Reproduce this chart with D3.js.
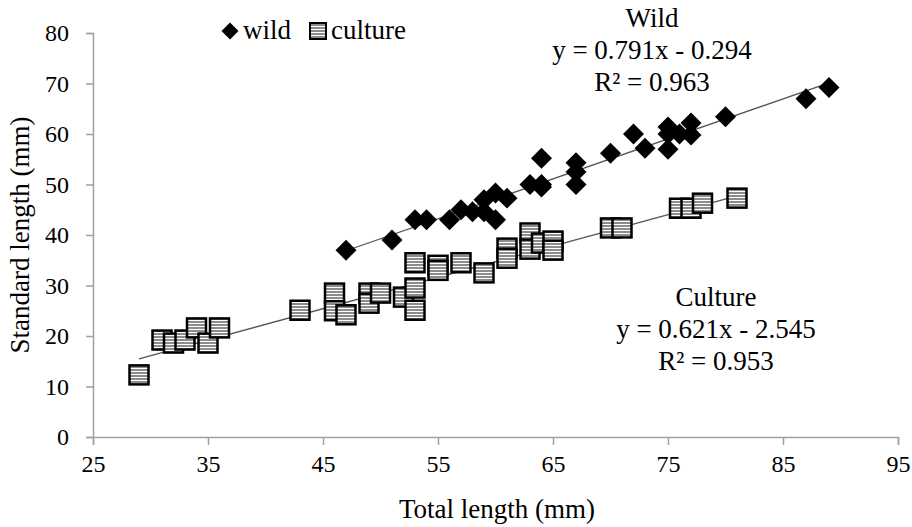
<!DOCTYPE html>
<html>
<head>
<meta charset="utf-8">
<script src="https://cdn.jsdelivr.net/npm/d3@7"></script>
<style>
  body { margin: 0; background: #fff; }
  svg { font-family: "Liberation Serif", "Times New Roman", serif; }
</style>
</head>
<body>
<div id="chart"></div>
<script>
// wild fish: total length vs standard length (mm)
var wildTL = [47, 51, 53, 54, 56, 57, 58, 59, 59, 60, 60, 61, 63, 64, 64, 64, 67, 67, 67, 70, 72, 73, 75, 75, 75, 76, 77, 77, 80, 87, 89];
var wildSL = [37, 39, 43, 43, 43, 45, 44.6, 47, 44.6, 48.3, 43, 47.3, 50, 55.2, 49.5, 50, 54.3, 52.5, 50, 56.2, 60, 57.2, 61.4, 57, 60, 60, 62.2, 59.8, 63.4, 67, 69.2];
// cultured fish
var cultTL = [29, 31, 32, 33, 34, 35, 36, 43, 46, 46, 47, 49, 49, 50, 52, 53, 53, 53, 55, 55, 57, 59, 61, 61, 63, 63, 64, 65, 65, 70, 71, 76, 77, 78, 81];
var cultSL = [12.3, 19.2, 18.6, 19.2, 21.6, 18.6, 21.6, 25.1, 28.5, 25, 24.2, 28.5, 26.5, 28.5, 27.7, 29.5, 25.1, 34.5, 34, 33, 34.5, 32.5, 37.4, 35.4, 40.4, 37.2, 38.4, 38.8, 37, 41.4, 41.4, 45.3, 45.3, 46.3, 47.3];

var xTicks = [25, 35, 45, 55, 65, 75, 85, 95];
var yTicks = [0, 10, 20, 30, 40, 50, 60, 70, 80];

var wildFit = {a: 0.791, b: -0.294};
var cultFit = {a: 0.621, b: -2.545};

var width = 912, height = 527;

var svg = d3.select("#chart").append("svg")
  .attr("width", width).attr("height", height);

var defs = svg.append("defs");
var pat = defs.append("pattern")
  .attr("id", "stripes")
  .attr("patternUnits", "userSpaceOnUse")
  .attr("width", 4).attr("height", 3);
pat.append("rect").attr("width", 4).attr("height", 3).attr("fill", "#8c8c8c");
pat.append("rect").attr("y", 2).attr("width", 4).attr("height", 1).attr("fill", "#fff");

var x = d3.scaleLinear().domain([25, 95]).range([93, 898]);
var y = d3.scaleLinear().domain([0, 80]).range([437, 33]);

// axes
var xAxis = svg.append("g")
  .attr("transform", "translate(0," + y(0) + ")")
  .call(d3.axisBottom(x).tickValues(xTicks).tickSize(8).tickPadding(10));
var yAxis = svg.append("g")
  .attr("transform", "translate(" + x(25) + ",0)")
  .call(d3.axisLeft(y).tickValues(yTicks).tickSize(7).tickPadding(17));

[xAxis, yAxis].forEach(function(a) {
  a.select(".domain").attr("stroke", "#a0a0a0").attr("stroke-width", 1.5);
  a.selectAll(".tick line").attr("stroke", "#a0a0a0").attr("stroke-width", 1.5);
  a.selectAll(".tick text").attr("font-size", 24).attr("fill", "#000")
    .style("font-family", "Liberation Serif, serif");
});

// trend lines
function trend(xs, fit) {
  var x0 = d3.min(xs), x1 = d3.max(xs);
  svg.append("line")
    .attr("x1", x(x0)).attr("y1", y(fit.a * x0 + fit.b))
    .attr("x2", x(x1)).attr("y2", y(fit.a * x1 + fit.b))
    .attr("stroke", "#555").attr("stroke-width", 1.3);
}

var cult = cultTL.map(function(d, i) { return [d, cultSL[i]]; });
var wild = wildTL.map(function(d, i) { return [d, wildSL[i]]; });

trend(cultTL, cultFit);
trend(wildTL, wildFit);

var sq = 19;
svg.append("g").selectAll("rect").data(cult).enter().append("rect")
  .attr("x", function(d) { return x(d[0]) - sq / 2; })
  .attr("y", function(d) { return y(d[1]) - sq / 2; })
  .attr("width", sq).attr("height", sq)
  .attr("fill", "url(#stripes)")
  .attr("stroke", "#000").attr("stroke-width", 2.5);

var diamond = d3.symbol().type(d3.symbolSquare).size(220);
svg.append("g").selectAll("path").data(wild).enter().append("path")
  .attr("d", diamond)
  .attr("transform", function(d) { return "translate(" + x(d[0]) + "," + y(d[1]) + ") rotate(45)"; })
  .attr("fill", "#000");

// axis titles
svg.append("text")
  .attr("x", 497).attr("y", 518)
  .attr("text-anchor", "middle").attr("font-size", 27)
  .text("Total length (mm)");
svg.append("text")
  .attr("transform", "translate(29," + y(40) + ") rotate(-90)")
  .attr("text-anchor", "middle").attr("font-size", 27)
  .text("Standard length (mm)");

// legend
svg.append("path")
  .attr("d", d3.symbol().type(d3.symbolSquare).size(144))
  .attr("transform", "translate(230,31) rotate(45)")
  .attr("fill", "#000");
svg.append("text").attr("x", 243).attr("y", 39).attr("font-size", 27).text("wild");
svg.append("rect")
  .attr("x", 310).attr("y", 23).attr("width", 16).attr("height", 16)
  .attr("fill", "url(#stripes)").attr("stroke", "#000").attr("stroke-width", 2);
svg.append("text").attr("x", 331).attr("y", 39).attr("font-size", 27).text("culture");

// equation annotations
function note(cx, cy, lines) {
  lines.forEach(function(t, i) {
    svg.append("text")
      .attr("x", cx).attr("y", cy + i * 32)
      .attr("text-anchor", "middle").attr("font-size", 27)
      .text(t);
  });
}
note(652, 27, ["Wild", "y = 0.791x - 0.294", "R\u00b2 = 0.963"]);
note(716, 306, ["Culture", "y = 0.621x - 2.545", "R\u00b2 = 0.953"]);
</script>
</body>
</html>
